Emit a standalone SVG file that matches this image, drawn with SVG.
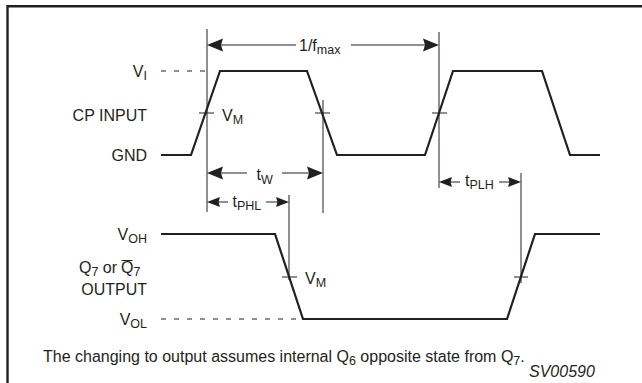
<svg xmlns="http://www.w3.org/2000/svg" width="642" height="383" viewBox="0 0 642 383">
<defs>
<style>
text{font-family:"Liberation Sans",Arial,sans-serif;font-size:16px;fill:#231f20}
.sub{font-size:12.5px}
.it{font-style:italic}
.wave{fill:none;stroke:#231f20;stroke-width:2.2;stroke-linejoin:miter}
.thin{fill:none;stroke:#231f20;stroke-width:1}
.dash{fill:none;stroke:#231f20;stroke-width:1;stroke-dasharray:5 8}
.border{fill:none;stroke:#231f20;stroke-width:2.4}
.ah{fill:#231f20;stroke:none}
</style>
<path id="bigL" d="M0,0 L16,-6.5 L14,0 L16,6.5 Z"/>
<path id="bigR" d="M0,0 L-16,-6.5 L-14,0 L-16,6.5 Z"/>
<path id="smL" d="M0,0 L13,-5 L11.5,0 L13,5 Z"/>
<path id="smR" d="M0,0 L-13,-5 L-11.5,0 L-13,5 Z"/>
</defs>
<rect width="642" height="383" fill="#ffffff"/>
<path class="border" d="M7.5,383 V6.2 H642"/>

<g id="connectors">
<path class="thin" d="M207,29 V212"/>
<path class="thin" d="M323,100 V213"/>
<path class="thin" d="M439,32 V188"/>
<path class="thin" d="M521,173 V283"/>
<path class="thin" d="M289,195 V280"/>
<path class="thin" d="M199,113 H214 M315,113 H330 M432,113 H447"/>
<path class="thin" d="M282,277 H297 M514,277 H528"/>
<path class="dash" d="M161,71 H205"/>
<path class="dash" d="M161,319 H300"/>
<path class="thin" d="M296,45 H210 M351,45 H436"/>
<use class="ah" href="#bigL" x="207" y="45"/>
<use class="ah" href="#bigR" x="439" y="45"/>
<path class="thin" d="M247,173 H210 M282,173 H320"/>
<use class="ah" href="#bigL" x="207" y="173"/>
<use class="ah" href="#bigR" x="323" y="173"/>
<path class="thin" d="M228,202 H210 M266,202 H286"/>
<use class="ah" href="#smL" x="207" y="202"/>
<use class="ah" href="#smR" x="289" y="202"/>
<path class="thin" d="M460,182 H442 M499,182 H518"/>
<use class="ah" href="#smL" x="439" y="182"/>
<use class="ah" href="#smR" x="521" y="182"/>
</g>

<g id="input-wave">
<path class="wave" d="M161,155 H191 L220,71 H307 L337,155 H425 L453,71 H542 L570,155 H600"/>
</g>
<g id="output-wave">
<path class="wave" d="M161,234 H275 L303,319 H507 L535,234 H600"/>
</g>

<g id="labels-input">
<text x="147" y="77" text-anchor="end">V<tspan class="sub" dy="3">I</tspan></text>
<text x="147" y="121" text-anchor="end">CP INPUT</text>
<text x="147" y="161" text-anchor="end">GND</text>
<text x="222" y="120.5">V<tspan class="sub" dy="3">M</tspan></text>
</g>
<g id="labels-timing">
<text x="299" y="51">1/f<tspan class="sub" dy="2.5">max</tspan></text>
<text x="256.5" y="180">t<tspan class="sub" dy="3.5">W</tspan></text>
<text x="232.5" y="207">t<tspan class="sub" dy="3">PHL</tspan></text>
<text x="465" y="186">t<tspan class="sub" dy="3">PLH</tspan></text>
</g>
<g id="labels-output">
<text x="147" y="239.5" text-anchor="end">V<tspan class="sub" dy="3">OH</tspan></text>
<text x="117" y="272.5" text-anchor="end">Q<tspan class="sub" dy="3">7</tspan><tspan dy="-3"> or</tspan></text>
<text x="121" y="272.5">Q<tspan class="sub" dy="3">7</tspan></text>
<path class="thin" d="M121.5,260.5 H132.5"/>
<text x="147" y="295" text-anchor="end">OUTPUT</text>
<text x="147" y="325" text-anchor="end">V<tspan class="sub" dy="3">OL</tspan></text>
<text x="305" y="284">V<tspan class="sub" dy="3">M</tspan></text>
</g>
<g id="caption">
<text x="43" y="362">The changing to output assumes internal Q<tspan class="sub" dy="3">6</tspan><tspan dy="-3"> opposite state from Q</tspan><tspan class="sub" dy="3">7</tspan><tspan dy="-3">.</tspan></text>
<text class="it" x="529" y="377">SV00590</text>
</g>
</svg>
